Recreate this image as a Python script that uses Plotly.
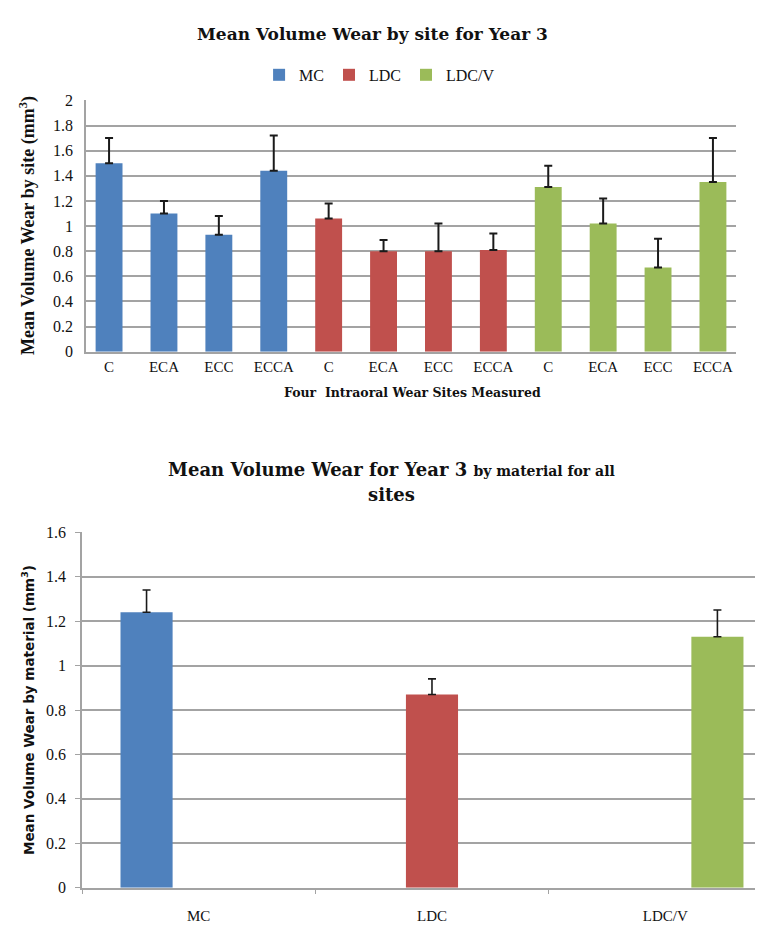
import plotly.graph_objects as go

# ---- data: top chart (by site) ----
sites = ["C", "ECA", "ECC", "ECCA"]
materials = ["MC", "LDC", "LDC/V"]
mc_site = [1.50, 1.10, 0.93, 1.44]
mc_site_err = [0.20, 0.10, 0.15, 0.28]
ldc_site = [1.06, 0.80, 0.80, 0.81]
ldc_site_err = [0.12, 0.09, 0.22, 0.13]
ldcv_site = [1.31, 1.02, 0.67, 1.35]
ldcv_site_err = [0.17, 0.20, 0.23, 0.35]
site_tick_labels = sites * 3
top_yticks = [0, 0.2, 0.4, 0.6, 0.8, 1, 1.2, 1.4, 1.6, 1.8, 2]

# ---- data: bottom chart (by material) ----
mat_means = [1.24, 0.87, 1.13]
mat_err = [0.10, 0.07, 0.12]
bottom_yticks = [0, 0.2, 0.4, 0.6, 0.8, 1, 1.2, 1.4, 1.6]

colors = ["#4F81BD", "#C0504D", "#9BBB59"]
site_series = [(mc_site, mc_site_err), (ldc_site, ldc_site_err), (ldcv_site, ldcv_site_err)]

W, H = 763, 925
def py(px):
    return 1 - px / H

SERIF = "Liberation Serif"
TSERIF = "DejaVu Serif"
grid = "#a3a3a3"

fig = go.Figure()

# top chart traces
for i, (name, (vals, errs)) in enumerate(zip(materials, site_series)):
    xs = [i * len(sites) + j for j in range(len(sites))]
    fig.add_trace(go.Bar(
        x=xs, y=vals, name=name, marker=dict(color=colors[i], line=dict(width=0)),
        width=0.49, offsetgroup="top",
        error_y=dict(type="data", symmetric=False, array=errs, arrayminus=[0] * len(errs),
                     color="#1a1a1a", thickness=2, width=4),
        xaxis="x", yaxis="y", showlegend=True,
    ))

# bottom chart traces (grouped, each material only in its own category)
for i, name in enumerate(materials):
    vals = [mat_means[k] if k == i else None for k in range(3)]
    errs = [mat_err[k] if k == i else 0 for k in range(3)]
    fig.add_trace(go.Bar(
        x=materials, y=vals, name=name, marker=dict(color=colors[i], line=dict(width=0)),
        offsetgroup=name,
        error_y=dict(type="data", symmetric=False, array=errs, arrayminus=[0] * 3,
                     color="#1a1a1a", thickness=1.6, width=4),
        xaxis="x2", yaxis="y2", showlegend=False,
    ))

fig.update_layout(
    width=W, height=H,
    margin=dict(l=0, r=0, t=0, b=0),
    paper_bgcolor="white", plot_bgcolor="white",
    barmode="group", bargap=0.33, bargroupgap=0,
    font=dict(family=SERIF, color="#111"),
    showlegend=True,
    legend=dict(orientation="h", x=0.487, xanchor="center", y=py(60), yanchor="middle",
                font=dict(family=SERIF, size=16, color="#111"),
                itemwidth=30, tracegroupgap=0, itemclick=False),
    xaxis=dict(domain=[78 / W, 728 / W], range=[-0.42, 11.42],
               tickvals=list(range(len(site_tick_labels))), ticktext=site_tick_labels,
               tickfont=dict(family=SERIF, size=15, color="#111"),
               ticklabelstandoff=1,
               showgrid=False, showline=True, linecolor=grid, linewidth=1.5,
               ticks="", zeroline=False, anchor="y"),
    yaxis=dict(domain=[py(342), py(86)], range=[0, 2], tickvals=top_yticks,
               tickfont=dict(family=SERIF, size=16, color="#111"),
               ticklabelstandoff=8,
               showgrid=True, gridcolor=grid, gridwidth=1.5,
               showline=True, linecolor=grid, linewidth=1.5, zeroline=False,
               ticks="", anchor="x"),
    xaxis2=dict(domain=[74 / W, 1.0], range=[-0.5, 2.453],
                tickfont=dict(family=SERIF, size=15, color="#111"),
                ticklabelstandoff=14,
                showgrid=False, showline=True, linecolor=grid, linewidth=1.5,
                ticks="outside", tickson="boundaries", ticklen=5, tickcolor=grid,
                zeroline=False, anchor="y2"),
    yaxis2=dict(domain=[py(888), py(526)], range=[0, 1.6], tickvals=bottom_yticks,
                tickfont=dict(family=SERIF, size=16, color="#111"),
                ticklabelstandoff=6,
                showgrid=True, gridcolor=grid, gridwidth=1.5,
                showline=True, linecolor=grid, linewidth=1.5, zeroline=False,
                ticks="outside", ticklen=5, tickcolor=grid, anchor="x2"),
)

ann = [
    dict(text="<b>Mean Volume Wear by site for Year 3</b>", x=364 / W, y=py(18),
         font=dict(family=TSERIF, size=17, color="#111")),
    dict(text="<b>Mean Volume Wear by site (mm<sup>3</sup>)</b>", x=20 / W, y=py(214),
         textangle=-90, font=dict(family=SERIF, size=18, color="#111")),
    dict(text="<b>Four  Intraoral Wear Sites Measured</b>", x=404 / W, y=py(384),
         font=dict(family=TSERIF, size=12.5, color="#111")),
    dict(text="<b>Mean Volume Wear for Year 3 <span style='font-size:14px'>by material for all</span></b>",
         x=384 / W, y=py(462), font=dict(family=TSERIF, size=18, color="#111")),
    dict(text="<b>sites</b>", x=384 / W, y=py(487), font=dict(family=TSERIF, size=18, color="#111")),
    dict(text="<b>Mean Volume Wear by material (mm<sup>3</sup>)</b>", x=20 / W, y=py(707),
         textangle=-90, font=dict(family="DejaVu Sans", size=13.5, color="#111")),
]
for a in ann:
    a.update(xref="paper", yref="paper", showarrow=False, xanchor="center", yanchor="middle")
fig.update_layout(annotations=ann)

fig.write_html("out.html")
